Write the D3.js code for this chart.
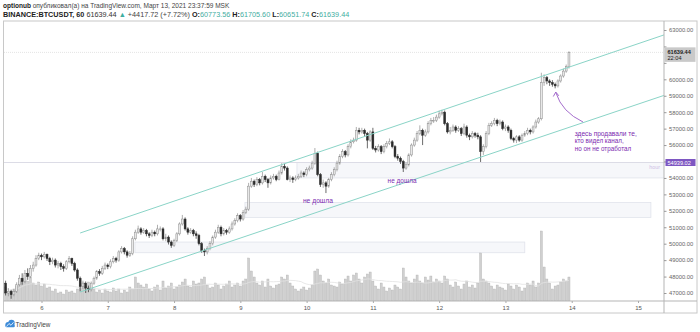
<!DOCTYPE html>
<html><head><meta charset="utf-8">
<script src="https://cdn.jsdelivr.net/npm/d3@7"></script>
<style>
html,body{margin:0;padding:0;background:#fff;}
svg{display:block;font-family:"Liberation Sans",Arial,sans-serif;}
</style></head><body>
<svg id="c" width="700" height="332"></svg>
<script>
// ---------- DATA ----------
const startTime = Date.UTC(2021, 2, 5, 11); // first hourly candle
const firstOpen = 47600;
const closes = [
47000,47100,46900,47100,47500,47900,47700,48200,48000,48500,
48700,49100,49300,49200,49350,49100,48900,49000,48700,48800,
48600,48500,48900,49100,48800,48400,47900,47400,47600,47300,
47200,47600,47900,48300,48200,48500,48700,48600,48900,49100,
49000,49500,49700,49500,49300,49400,50300,50700,50900,50700,
50800,50600,50500,50700,50600,50900,50900,50300,50400,50100,
49900,50200,50600,51200,51500,50900,50700,50800,50600,50500,
50000,49600,49500,49700,50000,50400,50700,51000,50600,50800,
50700,50900,51200,51400,51700,51500,51900,52100,53500,53800,
53600,53900,53700,54100,53900,53700,54000,54100,53900,54300,
54700,54600,53900,54000,53900,54000,54100,54300,54200,54500,
54600,54900,55500,54200,53600,53700,53500,53900,54200,54500,
54900,55300,55600,55400,55900,56200,56300,56900,56800,56900,
56700,56300,56800,55800,55700,55900,55600,55900,56100,56200,
55900,55300,55200,55000,54600,54800,55400,56000,56300,56700,
56900,56600,56800,57300,57500,57500,57700,57900,58000,57300,
56800,56900,57100,56900,57000,56700,57100,56600,56500,56700,
56600,56500,55600,55900,56700,57200,57300,57500,57300,57400,
57000,57100,56900,56400,56300,56500,56300,56600,56700,56900,
56800,57100,57400,57600,59800,60100,59900,59800,59700,59600,
59900,60200,60500,60773.56,61639.44];
const highs = [
47750,47300,47200,47250,47650,48100,48200,48400,48500,48700,
48900,49300,49450,49400,49500,49400,49200,49150,49100,48950,
48900,48750,49000,49250,49150,48900,48500,48000,47750,47700,
47450,47700,48000,48400,48450,48650,48850,48800,49050,49250,
49200,49600,49850,49800,49600,49550,50450,50850,51100,51000,
50950,50900,50700,50850,50800,51150,51050,51000,50600,50500,
50200,50300,50700,51300,51750,51600,51000,50950,50900,50750,
50600,50100,49700,49850,50150,50500,50850,51150,51100,50950,
50900,51050,51350,51550,51850,51800,52050,52250,53700,54000,
53900,54050,54000,54360,54200,54000,54150,54250,54200,54450,
54900,54850,54700,54150,54100,54150,54250,54450,54400,54650,
54750,55050,55820,55600,54300,53900,53800,54000,54350,54650,
55050,55450,55750,55700,56050,56350,56450,57100,57050,57050,
57000,56800,56900,57050,55950,56050,56000,56050,56250,56400,
56300,56000,55450,55300,55100,54950,55500,56100,56450,56850,
57200,57000,56950,57450,57650,57700,57850,58100,58150,58100,
57400,57100,57250,57200,57150,57100,57300,57200,56700,56850,
56800,56750,56600,56050,56850,57350,57450,57650,57600,57550,
57500,57250,57200,57000,56500,56600,56600,56700,56850,57050,
57000,57200,57550,57700,60400,60300,60200,60000,59950,59800,
60000,60300,60650,60900,61705.60];
const lows = [
46850,46800,46650,46800,47000,47400,47500,47600,47800,47900,
48300,48600,49000,49000,49100,48950,48700,48750,48550,48500,
48400,48300,48400,48800,48650,48300,47750,47100,47250,47000,
47050,47100,47500,47800,48050,48100,48400,48450,48500,48800,
48850,48900,49400,49350,49150,49200,49300,50200,50600,50550,
50600,50450,50350,50400,50450,50500,50750,50200,50150,49950,
49750,49800,50100,50500,51100,50800,50550,50600,50450,50300,
49900,49450,49250,49350,49600,49900,50300,50600,50450,50500,
50550,50600,50800,51100,51300,51350,51400,51800,52000,53400,
53450,53500,53550,53600,53750,53400,53600,53900,53800,53850,
54200,54450,53850,53750,53700,53800,53900,54000,54050,54100,
54400,54500,54800,54100,53450,53400,53080,53400,53800,54100,
54400,54800,55200,55250,55300,55800,56100,56200,56650,56700,
56550,55800,56200,55700,55550,55600,55450,55500,55800,56000,
55800,55200,55050,54850,54360,54500,54700,55300,55900,56200,
56600,56000,56500,56700,57200,57350,57400,57600,57800,57200,
56700,56650,56800,56750,56800,56550,56600,56450,56300,56400,
56450,56350,54970,55400,55800,56600,57100,57200,57150,57200,
56900,56850,56750,56300,56150,56120,56200,56200,56500,56600,
56650,56700,57000,57300,57500,59600,59700,59600,59550,59450,
59500,59800,60100,60400,60651.74];
const volumes = [
2800,1600,2000,2400,3000,4000,4400,5200,4000,4800,3600,3200,3800,
3000,3400,2600,2800,2000,2400,1600,1800,1400,2200,1800,2000,1600,2400,3200,
3600,3000,3800,2800,2400,
1800,2200,1600,2400,2000,1800,2600,2000,2400,1600,2200,1800,2800,2400,
4800,3600,3200,2800,3400,
2400,2000,2800,3200,2200,4000,2600,3000,3600,2400,2800,3200,
3800,4400,3000,2800,4000,3400,3600,4400,4800,3200,2600,
2800,3600,3200,2400,3000,3400,4000,2800,3200,3600,3000,4000,4400,
8600,
6000,4800,3600,3200,4000,2800,4400,3000,2600,3200,3400,4800,4400,5200,3600,3000,2400,
2000,2400,2800,2200,2600,3200,
6000,6400,5200,
4000,3600,4400,3200,3000,2800,3800,3400,
4400,5000,4000,5200,5600,4400,3600,4800,5400,5800,4000,
3000,2400,3600,2800,2000,2600,2200,3200,2800,2400,
6600,4800,4000,3600,
4400,5200,4000,3600,4800,4200,5000,3800,4400,4000,
3600,5000,4400,3200,2800,3800,3000,2400,3400,4000,2800,3200,2600,3600,
9600,4400,
4000,3600,3000,2400,3200,2800,2600,2200,3400,3000,2400,3200,2800,2000,2600,3600,3200,4000,2800,3600,
14000,
6800,4400,3600,2400,3000,3200,3800,4400,4000,4800];
const dayTicks = ["2021-03-06","2021-03-07","2021-03-08","2021-03-09","2021-03-10",
                  "2021-03-11","2021-03-12","2021-03-13","2021-03-14","2021-03-15"];
const priceTicks = [47000,48000,49000,50000,51000,52000,53000,54000,55000,
                    56000,57000,58000,59000,60000,61000,62000,63000];
// parallel channel (two anchor times, prices)
const channelTimes = ["2021-03-06T14:00","2021-03-15T09:24"];
const channelUpper = [50650, 62700];
const channelLower = [47060, 59020];
// zones (rectangles): start, end, top price, bottom price
const zoneStart = ["2021-03-09T20:30","2021-03-09T01:40","2021-03-07T09:50"];
const zoneEnd   = ["2021-03-15T10:00","2021-03-15T04:40","2021-03-13T07:00"];
const zoneTop   = [54939.02, 52500, 50100];
const zoneBottom= [54000, 51600, 49450];
const levelPrice = 54939.02;
const lastPrice = 61639.44;

// ---------- SETUP ----------
const svg = d3.select("#c");
const W = 700, H = 332;
const L = 4, R = 664, T = 21, B = 301;
const parseT = d3.utcParse("%Y-%m-%dT%H:%M");
const parseD = d3.utcParse("%Y-%m-%d");
const x = d3.scaleUtc().domain([parseD("2021-03-06"), parseD("2021-03-15")]).range([41.5, 638]);
const y = d3.scaleLinear().domain([47000, 63000]).range([293, 30]);
const vy = d3.scaleLinear().domain([0, 14000]).range([B, 231]);

const candles = closes.map((c, i) => ({
  t: d3.utcHour.offset(new Date(startTime), i),
  o: i === 0 ? firstOpen : closes[i - 1],
  h: highs[i], l: lows[i], c: c, v: volumes[i]
}));

svg.append("rect").attr("width", W).attr("height", H).attr("fill", "#fff");

// clip
svg.append("clipPath").attr("id", "plot").append("rect")
  .attr("x", L).attr("y", T).attr("width", R - L).attr("height", B - T);
const plot = svg.append("g").attr("clip-path", "url(#plot)");

// zones
const zones = zoneStart.map((s, i) => ({s: parseT(s), e: parseT(zoneEnd[i]), top: zoneTop[i], bot: zoneBottom[i]}));
plot.selectAll("rect.zone").data(zones).join("rect").attr("class", "zone")
  .attr("x", d => x(d.s)).attr("width", d => x(d.e) - x(d.s))
  .attr("y", d => y(d.top)).attr("height", d => y(d.bot) - y(d.top))
  .attr("fill", "#f6f7fa").attr("stroke", "#e0e3eb").attr("stroke-width", 0.8);

// level line
plot.append("line").attr("x1", L).attr("x2", R).attr("y1", y(levelPrice)).attr("y2", y(levelPrice))
  .attr("stroke", "#dcdce6").attr("stroke-width", 1);
// last price dotted line
plot.append("line").attr("x1", L).attr("x2", R).attr("y1", y(lastPrice)).attr("y2", y(lastPrice))
  .attr("stroke", "#e4e4e4").attr("stroke-width", 1).attr("stroke-dasharray", "1,1");

// volume bars
const bw = 2.1;
plot.selectAll("rect.vol").data(candles).join("rect").attr("class", "vol")
  .attr("x", d => x(d.t) - bw / 2).attr("width", bw)
  .attr("y", d => vy(d.v)).attr("height", d => B - vy(d.v))
  .attr("fill", "#d0d0d0").attr("stroke", "#adadad").attr("stroke-width", 0.35);

// volume MA
const ma = candles.map((d, i) => ({t: d.t, v: d3.mean(volumes.slice(Math.max(0, i - 19), i + 1))}));
plot.append("path").datum(ma)
  .attr("d", d3.line().x(d => x(d.t)).y(d => vy(d.v)))
  .attr("fill", "none").attr("stroke", "#e2e2e2").attr("stroke-width", 0.8);

// candles
const cw = 1.9;
const cg = plot.selectAll("g.candle").data(candles).join("g").attr("class", "candle");
cg.append("line")
  .attr("x1", d => x(d.t)).attr("x2", d => x(d.t))
  .attr("y1", d => y(d.h)).attr("y2", d => y(d.l))
  .attr("stroke", d => d.c >= d.o ? "#8c8c8c" : "#2b2b2b").attr("stroke-width", 0.7);
cg.append("rect")
  .attr("x", d => x(d.t) - cw / 2).attr("width", cw)
  .attr("y", d => y(Math.max(d.o, d.c)))
  .attr("height", d => Math.max(0.7, Math.abs(y(d.o) - y(d.c))))
  .attr("fill", d => d.c >= d.o ? "#e8e8e8" : "#2b2b2b")
  .attr("stroke", d => d.c >= d.o ? "#8c8c8c" : "#2b2b2b").attr("stroke-width", 0.5);

// channel
const ct = channelTimes.map(parseT);
[channelUpper, channelLower].forEach(arr => {
  plot.append("line")
    .attr("x1", x(ct[0])).attr("y1", y(arr[0]))
    .attr("x2", x(ct[1])).attr("y2", y(arr[1]))
    .attr("stroke", "#8ad4c7").attr("stroke-width", 1);
});

// annotations
const purple = "#7b2bb0";
function fitText(sel, target) {
  const w = sel.node().getComputedTextLength();
  const fs = parseFloat(sel.attr("font-size"));
  sel.attr("font-size", fs * target / w);
}
const nd1 = svg.append("text").attr("x", x(parseT("2021-03-09T22:40"))).attr("y", 203)
  .attr("font-size", 7).attr("fill", purple).text("не дошла");
fitText(nd1, 30);
const nd2 = svg.append("text").attr("x", x(parseT("2021-03-11T05:20"))).attr("y", 183)
  .attr("font-size", 7).attr("fill", purple).text("не дошла");
fitText(nd2, 29);
const noteLines = ["здесь продавали те,", "кто видел канал,", "но он не отработал"];
const noteX = x(parseT("2021-03-14T00:00")) + 3;
noteLines.forEach((s, i) => {
  const t = svg.append("text").attr("x", noteX).attr("y", 135.5 + i * 7.6)
    .attr("font-size", 6.3).attr("fill", purple).text(s);
  if (i === 0) fitText(t, 62);
});
// curved arrow
svg.append("path").attr("d", "M583,122 Q562,112 556,93")
  .attr("fill", "none").attr("stroke", "#9a5cc6").attr("stroke-width", 0.9);
svg.append("path").attr("d", "M553.3,96.5 L555.8,92 L558.8,95.8")
  .attr("fill", "none").attr("stroke", "#9a5cc6").attr("stroke-width", 0.9);

// frame
svg.append("rect").attr("x", 3.5).attr("y", 21).attr("width", 693.5).attr("height", 292)
  .attr("fill", "none").attr("stroke", "#c8c8c8").attr("stroke-width", 1);
svg.append("line").attr("x1", R).attr("x2", R).attr("y1", 21).attr("y2", 313)
  .attr("stroke", "#b5b5b5").attr("stroke-width", 1);
svg.append("line").attr("x1", 3.5).attr("x2", 697).attr("y1", B).attr("y2", B)
  .attr("stroke", "#b5b5b5").attr("stroke-width", 1);

// price axis (labels hidden behind the price boxes are omitted, as in the reference)
const ya = svg.append("g").attr("transform", `translate(${R},0)`)
  .call(d3.axisRight(y).tickValues(priceTicks).tickFormat(d3.format(".2f")).tickSize(2.5).tickPadding(2.5));
ya.select(".domain").remove();
ya.selectAll("line").attr("stroke", "#999");
ya.selectAll("text").attr("font-size", 5.8).attr("fill", "#666").attr("font-family", "Liberation Sans, Arial");
ya.selectAll(".tick").filter(d => Math.abs(y(d) - y(lastPrice)) < 11 || Math.abs(y(d) - y(levelPrice)) < 6)
  .select("text").remove();

// time axis
const xa = svg.append("g").attr("transform", `translate(0,${B})`)
  .call(d3.axisBottom(x).tickValues(dayTicks.map(parseD)).tickFormat(d3.utcFormat("%-d")).tickSize(2).tickPadding(3));
xa.select(".domain").remove();
xa.selectAll("line").attr("stroke", "#aaa");
xa.selectAll("text").attr("font-size", 6).attr("fill", "#555").attr("font-family", "Liberation Sans, Arial");

// last price box
svg.append("rect").attr("x", R + 0.5).attr("y", y(lastPrice) - 5).attr("width", 31).attr("height", 14.5)
  .attr("fill", "#c9c9c9");
svg.append("text").attr("x", R + 3.5).attr("y", y(lastPrice) + 1.8).attr("font-size", 5.6)
  .attr("font-weight", "bold").attr("fill", "#222").text(d3.format(".2f")(lastPrice));
svg.append("text").attr("x", R + 3.5).attr("y", y(lastPrice) + 7.4).attr("font-size", 5.6)
  .attr("fill", "#222").text("22:04");
// level box
svg.append("rect").attr("x", R + 1.5).attr("y", y(levelPrice) - 3.5).attr("width", 30).attr("height", 7)
  .attr("fill", "#7e57c2");
svg.append("text").attr("x", R + 3.5).attr("y", y(levelPrice) + 2).attr("font-size", 5.6)
  .attr("fill", "#fff").text(d3.format(".2f")(levelPrice));
svg.append("text").attr("x", R - 4).attr("y", y(levelPrice) + 6.5).attr("font-size", 5.4)
  .attr("text-anchor", "end").attr("fill", "#cdbfe6").text("hour");

// header
const teal = "#3fae9f";
const h1 = svg.append("text").attr("x", 3).attr("y", 8.2).attr("font-size", 6.5).attr("fill", "#444");
h1.append("tspan").attr("font-weight", "bold").attr("fill", "#222").text("optionub");
h1.append("tspan").text(" опубликовал(а) на TradingView.com, Март 13, 2021 23:37:59 MSK");
fitText(h1, 227);
const h2 = svg.append("text").attr("x", 3).attr("y", 16.5).attr("font-size", 6.5).attr("fill", "#333");
h2.append("tspan").attr("font-weight", "bold").attr("fill", "#222").text("BINANCE:BTCUSDT, 60");
h2.append("tspan").text(" 61639.44 ");
h2.append("tspan").attr("fill", teal).text("▲");
h2.append("tspan").attr("fill", "#444").text(" +4417.72 (+7.72%) ");
[["O:", "60773.56"], ["H:", "61705.60"], ["L:", "60651.74"], ["C:", "61639.44"]].forEach((p, i) => {
  h2.append("tspan").attr("font-weight", "bold").attr("fill", "#222").text((i ? " " : "") + p[0]);
  h2.append("tspan").attr("fill", teal).text(p[1]);
});
fitText(h2, 347);

// logo
const lg = svg.append("g").attr("fill", "#3d8bd8");
lg.append("circle").attr("cx", 8).attr("cy", 324.5).attr("r", 2.6);
lg.append("circle").attr("cx", 11.5).attr("cy", 323).attr("r", 3.2);
lg.append("rect").attr("x", 5.4).attr("y", 324.5).attr("width", 9.4).attr("height", 2.8).attr("rx", 1.2);
svg.append("path").attr("d", "M6.5,326.5 L9,323.5 L11,325.3 L13.5,322.3").attr("fill", "none")
  .attr("stroke", "#fff").attr("stroke-width", 0.8);
const lt = svg.append("text").attr("x", 15.5).attr("y", 326.8).attr("font-size", 7).attr("fill", "#444").text("TradingView");
fitText(lt, 35);
</script>
</body></html>
